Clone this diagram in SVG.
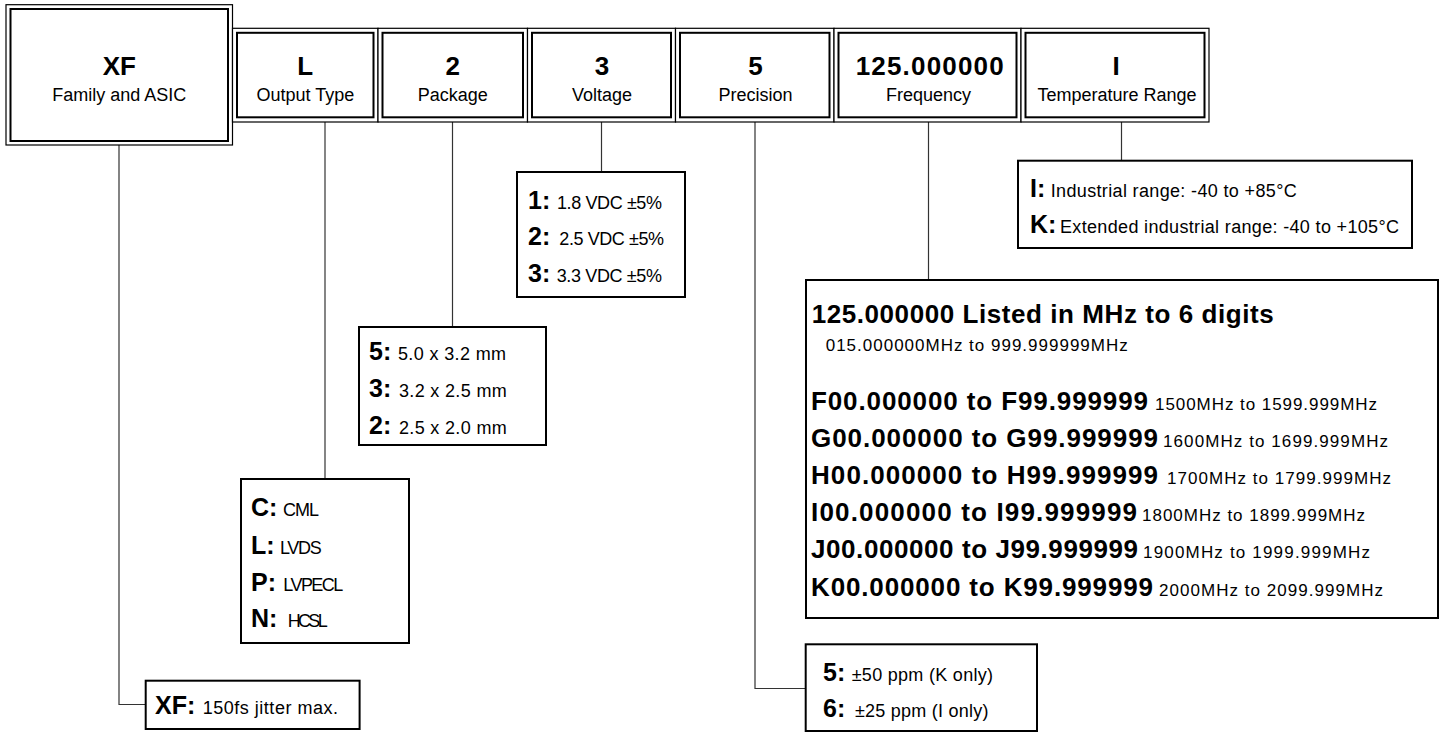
<svg xmlns="http://www.w3.org/2000/svg" width="1443" height="732" viewBox="0 0 1443 732">
<defs><style>
text{font-family:"Liberation Sans",Arial,sans-serif;fill:#000}
.o{fill:#fff;stroke:#000;stroke-width:1.2}
.i{fill:none;stroke:#000;stroke-width:2}
.b{fill:#fff;stroke:#000;stroke-width:2}
.c{fill:none;stroke:#333;stroke-width:1.2}
.h{font-size:26px;font-weight:bold;text-anchor:middle}
.s{font-size:18px;text-anchor:middle}
.k{font-size:25px;font-weight:bold}
.v{font-size:18px}
.fb{font-size:26px;font-weight:bold}
.fv{font-size:17px}
</style></defs>
<rect width="1443" height="732" fill="#fff"/>
<g id="connectors">
<path class="c" d="M119 145V704.5H146"/>
<path class="c" d="M325 122V479"/>
<path class="c" d="M452.5 122V327"/>
<path class="c" d="M601.5 122V172"/>
<path class="c" d="M755 122V688.5H806"/>
<path class="c" d="M928.5 122V280"/>
<path class="c" d="M1121.5 122V161"/>
</g>
<g id="top-xf">
<rect class="o" x="6" y="4.7" width="226.5" height="140.3"/>
<rect class="i" x="10.5" y="9" width="217.5" height="132"/>
<text class="h" x="119.3" y="75">XF</text>
<text class="s" x="119.3" y="101">Family and ASIC</text>
</g>
<g id="top-output">
<rect class="o" x="232.5" y="28.3" width="145.5" height="93.7"/>
<rect class="i" x="237" y="32.8" width="136.5" height="84.5"/>
<text class="h" x="305.3" y="75">L</text>
<text class="s" x="305.3" y="101">Output Type</text>
</g>
<g id="top-package">
<rect class="o" x="378" y="28.3" width="149.5" height="93.7"/>
<rect class="i" x="382.5" y="32.8" width="140.5" height="84.5"/>
<text class="h" x="452.8" y="75">2</text>
<text class="s" x="452.8" y="101">Package</text>
</g>
<g id="top-voltage">
<rect class="o" x="527.5" y="28.3" width="148" height="93.7"/>
<rect class="i" x="532" y="32.8" width="139" height="84.5"/>
<text class="h" x="602" y="75">3</text>
<text class="s" x="602" y="101">Voltage</text>
</g>
<g id="top-precision">
<rect class="o" x="675.5" y="28.3" width="158.5" height="93.7"/>
<rect class="i" x="680" y="32.8" width="149.5" height="84.5"/>
<text class="h" x="755.5" y="75">5</text>
<text class="s" x="755.5" y="101">Precision</text>
</g>
<g id="top-frequency">
<rect class="o" x="834" y="28.3" width="187" height="93.7"/>
<rect class="i" x="838.5" y="32.8" width="178" height="84.5"/>
<text class="h" x="929.7" y="75" textLength="148">125.000000</text>
<text class="s" x="928.5" y="101">Frequency</text>
</g>
<g id="top-temperature">
<rect class="o" x="1021" y="28.3" width="188" height="93.7"/>
<rect class="i" x="1025.5" y="32.8" width="179" height="84.5"/>
<text class="h" x="1116" y="74.5">I</text>
<text class="s" x="1117" y="101">Temperature Range</text>
</g>
<g id="opt-voltage">
<rect class="b" x="517" y="172" width="168" height="125"/>
<text class="k" x="528" y="209.3">1:</text><text class="v" x="557" y="209.3" textLength="105">1.8 VDC ±5%</text>
<text class="k" x="528" y="245">2:</text><text class="v" x="559.3" y="245" textLength="104.7">2.5 VDC ±5%</text>
<text class="k" x="528" y="281.7">3:</text><text class="v" x="556.7" y="281.7" textLength="105.3">3.3 VDC ±5%</text>
</g>
<g id="opt-package">
<rect class="b" x="359" y="327" width="187" height="118"/>
<text class="k" x="369" y="360">5:</text><text class="v" x="398" y="360" textLength="108">5.0 x 3.2 mm</text>
<text class="k" x="369" y="396.7">3:</text><text class="v" x="399" y="396.7" textLength="107.7">3.2 x 2.5 mm</text>
<text class="k" x="369" y="434">2:</text><text class="v" x="399" y="434" textLength="107.7">2.5 x 2.0 mm</text>
</g>
<g id="opt-output">
<rect class="b" x="241" y="479" width="168" height="164"/>
<text class="k" x="251" y="516">C:</text><text class="v" x="283" y="516" textLength="36">CML</text>
<text class="k" x="251" y="554">L:</text><text class="v" x="280" y="554" textLength="41.7">LVDS</text>
<text class="k" x="251" y="590.7">P:</text><text class="v" x="283.3" y="590.7" textLength="60">LVPECL</text>
<text class="k" x="251" y="627.3">N:</text><text class="v" x="287.7" y="627.3" textLength="40">HCSL</text>
</g>
<g id="opt-family">
<rect class="b" x="145.7" y="680.7" width="213.9" height="48.3"/>
<text class="k" x="155" y="714">XF:</text><text class="v" x="202.7" y="714" textLength="135.3">150fs jitter max.</text>
</g>
<g id="opt-precision">
<rect class="b" x="805.7" y="644.3" width="231.3" height="86.7"/>
<text class="k" x="823" y="680.7">5:</text><text class="v" x="851.7" y="680.7" textLength="141.3">±50 ppm (K only)</text>
<text class="k" x="823" y="717.3">6:</text><text class="v" x="855" y="717.3" textLength="133.5">±25 ppm (I only)</text>
</g>
<g id="opt-temperature">
<rect class="b" x="1018" y="160.7" width="394" height="87.3"/>
<text class="k" x="1030" y="196.7">I:</text><text class="v" x="1050.7" y="196.7" textLength="246">Industrial range: -40 to +85°C</text>
<text class="k" x="1030" y="233">K:</text><text class="v" x="1060" y="233" textLength="339">Extended industrial range: -40 to +105°C</text>
</g>
<g id="opt-frequency">
<rect class="b" x="806" y="280" width="632" height="338"/>
<text class="fb" x="811.7" y="322.7" textLength="462">125.000000 Listed in MHz to 6 digits</text>
<text class="fv" x="825.7" y="350.7" textLength="302">015.000000MHz to 999.999999MHz</text>
<text class="fb" x="811" y="409.5" textLength="337">F00.000000 to F99.999999</text><text class="fv" x="1155" y="409.5" textLength="222">1500MHz to 1599.999MHz</text>
<text class="fb" x="811" y="446.7" textLength="347">G00.000000 to G99.999999</text><text class="fv" x="1163" y="446.7" textLength="225">1600MHz to 1699.999MHz</text>
<text class="fb" x="811" y="484" textLength="347">H00.000000 to H99.999999</text><text class="fv" x="1167" y="484" textLength="224">1700MHz to 1799.999MHz</text>
<text class="fb" x="811" y="521.2" textLength="326">I00.000000 to I99.999999</text><text class="fv" x="1142" y="521.2" textLength="223">1800MHz to 1899.999MHz</text>
<text class="fb" x="811" y="558.4" textLength="327">J00.000000 to J99.999999</text><text class="fv" x="1143" y="558.4" textLength="227">1900MHz to 1999.999MHz</text>
<text class="fb" x="811" y="595.6" textLength="342">K00.000000 to K99.999999</text><text class="fv" x="1159" y="595.6" textLength="224">2000MHz to 2099.999MHz</text>
</g>
</svg>
